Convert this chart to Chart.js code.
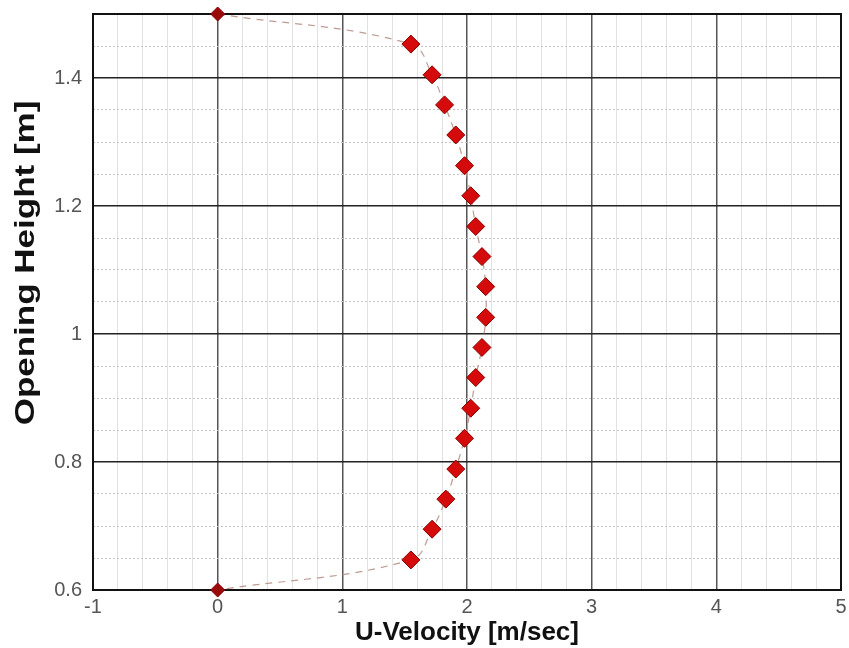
<!DOCTYPE html>
<html>
<head>
<meta charset="utf-8">
<script src="https://cdn.jsdelivr.net/npm/chart.js@4"></script>
<style>
  html, body { margin: 0; padding: 0; background: #fff; }
  #wrap { width: 849px; height: 648px; }
</style>
</head>
<body>
<div id="wrap"><canvas id="chart"></canvas></div>
<script>
// velocity profile across the opening
const uVelocity = [0, 1.55, 1.72, 1.82, 1.91, 1.98, 2.03, 2.07, 2.12, 2.15,
                   2.15, 2.12, 2.07, 2.03, 1.98, 1.91, 1.83, 1.72, 1.55, 0];
const height = [1.5, 1.453, 1.405, 1.358, 1.311, 1.263, 1.216, 1.168, 1.121, 1.074,
                1.026, 0.979, 0.932, 0.884, 0.837, 0.789, 0.742, 0.695, 0.647, 0.6];
const xTickLabels = ["-1", "0", "1", "2", "3", "4", "5"];
const yTickLabels = ["0.6", "0.8", "1", "1.2", "1.4"];
const yTitle = "Opening Height [m]";

const FONT = "'Liberation Sans', Arial, sans-serif";

function isMult(v, step) {
  const r = v / step;
  return Math.abs(r - Math.round(r)) < 1e-6;
}

const points = uVelocity.map((u, i) => ({ x: u, y: height[i] }));

// box round the plot area + the y axis title (sits a bit above centre in the original)
const frame = {
  id: "frame",
  beforeDatasetsDraw(chart) {
    const { ctx, chartArea: a } = chart;
    ctx.save();
    ctx.strokeStyle = "#111";
    ctx.lineWidth = 2;
    ctx.strokeRect(a.left, a.top, a.right - a.left, a.bottom - a.top);
    ctx.restore();
  },
  afterDraw(chart) {
    const ctx = chart.ctx;
    ctx.save();
    ctx.translate(26, 263);
    ctx.rotate(-Math.PI / 2);
    ctx.scale(1.25, 1);
    ctx.font = "bold 28px " + FONT;
    ctx.fillStyle = "#111";
    ctx.textAlign = "center";
    ctx.textBaseline = "middle";
    ctx.fillText(yTitle, 0, 0);
    ctx.restore();
  }
};

new Chart(document.getElementById("chart"), {
  type: "scatter",
  data: {
    datasets: [{
      data: points,
      showLine: true,
      tension: 0.4,
      borderColor: "rgba(185,150,140,0.95)",
      borderWidth: 1.2,
      borderDash: [7, 6],
      pointStyle: "rectRot",
      pointRadius: ctx => (ctx.dataIndex === 0 || ctx.dataIndex === uVelocity.length - 1) ? 7 : 9,
      pointBackgroundColor: ctx => (ctx.dataIndex === 0 || ctx.dataIndex === uVelocity.length - 1) ? "#9a0a0a" : "#d50a0a",
      pointBorderColor: "#8a0000",
      pointBorderWidth: 1,
      clip: false
    }]
  },
  options: {
    responsive: true,
    maintainAspectRatio: false,
    animation: false,
    layout: { padding: { top: 14, right: 6, left: 0, bottom: 0 } },
    plugins: { legend: { display: false }, tooltip: { enabled: false } },
    scales: {
      x: {
        type: "linear",
        min: -1,
        max: 5,
        afterFit(scale) {
          scale.height = 58;
          scale.paddingLeft = 0;
          scale.paddingRight = 0;
        },
        ticks: {
          stepSize: 0.2,
          autoSkip: false,
          maxRotation: 0,
          padding: 5,
          color: "#555",
          font: { family: FONT, size: 20 },
          callback: v => isMult(v, 1) ? xTickLabels[Math.round(v) + 1] : ""
        },
        grid: {
          drawTicks: false,
          color: c => isMult(c.tick.value, 1) ? "#555" : "#e2e2e2",
          lineWidth: c => isMult(c.tick.value, 1) ? 1.5 : 1
        },
        border: { display: false },
        title: {
          display: true,
          text: "U-Velocity [m/sec]",
          color: "#111",
          font: { family: FONT, size: 26, weight: "bold" },
          padding: { top: 0, bottom: 0 }
        }
      },
      y: {
        type: "linear",
        min: 0.6,
        max: 1.5,
        afterFit(scale) {
          scale.width = 93;
          scale.paddingTop = 0;
          scale.paddingBottom = 0;
        },
        ticks: {
          stepSize: 0.05,
          autoSkip: false,
          padding: 11,
          color: "#555",
          font: { family: FONT, size: 20 },
          callback: v => isMult(v, 0.2) && v < 1.45 ? yTickLabels[Math.round((v - 0.6) / 0.2)] : ""
        },
        grid: {
          drawTicks: false,
          color: c => isMult(c.tick.value, 0.2) ? "#222" : "#c4c4c4",
          lineWidth: c => isMult(c.tick.value, 0.2) ? 1.5 : 1
        },
        border: {
          display: false,
          dash: c => (c.tick && !isMult(c.tick.value, 0.2)) ? [2, 2] : []
        },
        title: { display: false }
      }
    }
  },
  plugins: [frame]
});
</script>
</body>
</html>
